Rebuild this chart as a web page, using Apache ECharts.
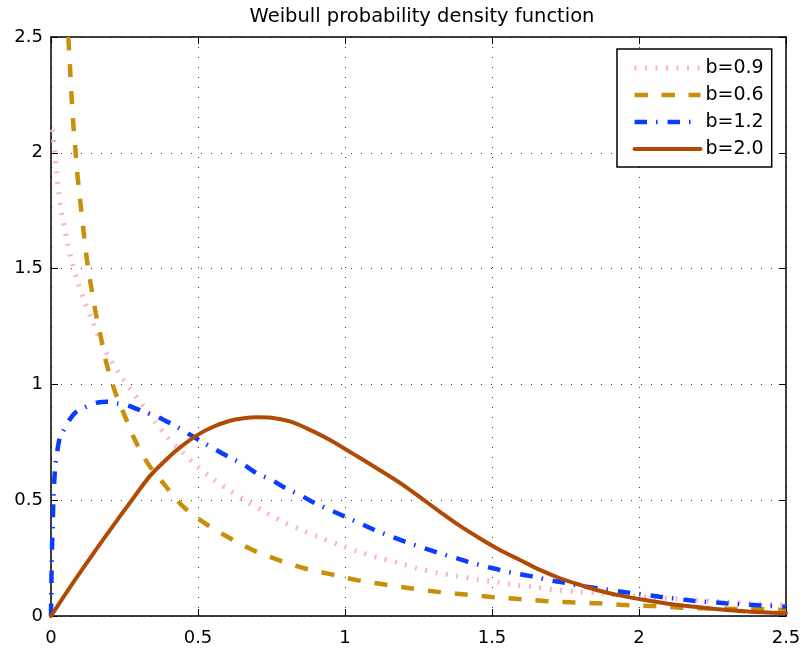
<!DOCTYPE html>
<html>
<head>
<meta charset="utf-8">
<script src="https://cdn.jsdelivr.net/npm/echarts@6/dist/echarts.min.js"></script>
<style>
  html, body { margin: 0; padding: 0; background: #fff; }
  #chart { width: 804px; height: 650px; }
</style>
</head>
<body>
<div id="chart"></div>
<script>
// Axis ticks
const xTicks = [0, 0.5, 1, 1.5, 2, 2.5];
const yTicks = [0, 0.5, 1, 1.5, 2, 2.5];

// Curve names (legend order)
const curveNames = ['b=0.9', 'b=0.6', 'b=1.2', 'b=2.0'];

// b = 0.9
const xB09 = [0.005, 0.011, 0.019, 0.025, 0.034, 0.042, 0.055, 0.07, 0.089, 0.113, 0.138, 0.164, 0.195, 0.231, 0.272, 0.314, 0.354, 0.399, 0.445, 0.496, 0.552, 0.609, 0.666, 0.726, 0.785, 0.847, 0.913, 0.98, 1.045, 1.113, 1.181, 1.244, 1.312, 1.38, 1.448, 1.516, 1.584, 1.652, 1.72, 1.794, 1.862, 1.95, 2.05, 2.15, 2.25, 2.35, 2.5];
const yB09 = [2.1, 2.03, 1.92, 1.84, 1.75, 1.70, 1.616, 1.533, 1.448, 1.363, 1.281, 1.199, 1.123, 1.048, 0.976, 0.907, 0.839, 0.767, 0.709, 0.648, 0.59, 0.541, 0.494, 0.45, 0.41, 0.374, 0.34, 0.308, 0.278, 0.252, 0.23, 0.206, 0.187, 0.173, 0.158, 0.147, 0.134, 0.124, 0.112, 0.105, 0.098, 0.09, 0.08, 0.072, 0.064, 0.057, 0.047];

// b = 0.6
const xB06 = [0.059, 0.065, 0.07, 0.076, 0.084, 0.091, 0.101, 0.111, 0.122, 0.136, 0.152, 0.171, 0.19, 0.218, 0.252, 0.288, 0.333, 0.39, 0.45, 0.524, 0.603, 0.686, 0.773, 0.861, 0.949, 1.04, 1.13, 1.221, 1.312, 1.4, 1.499, 1.59, 1.68, 1.771, 1.86, 1.958, 2.049, 2.14, 2.23, 2.327, 2.417, 2.5];
const yB06 = [2.5, 2.36, 2.24, 2.12, 2.0, 1.89, 1.775, 1.658, 1.541, 1.426, 1.31, 1.195, 1.084, 0.968, 0.861, 0.753, 0.652, 0.561, 0.472, 0.40, 0.34, 0.285, 0.242, 0.206, 0.181, 0.155, 0.137, 0.12, 0.105, 0.094, 0.082, 0.073, 0.065, 0.059, 0.055, 0.047, 0.043, 0.036, 0.033, 0.03, 0.029, 0.026];

// b = 1.2
const xB12 = [0, 0.002, 0.004, 0.006, 0.008, 0.011, 0.014, 0.017, 0.025, 0.031, 0.042, 0.059, 0.08, 0.099, 0.133, 0.16, 0.19, 0.223, 0.257, 0.308, 0.36, 0.41, 0.456, 0.512, 0.552, 0.603, 0.654, 0.7, 0.751, 0.799, 0.847, 0.898, 0.949, 1.0, 1.051, 1.102, 1.153, 1.204, 1.255, 1.312, 1.363, 1.419, 1.471, 1.527, 1.578, 1.641, 1.691, 1.743, 1.8, 1.856, 1.964, 2.071, 2.185, 2.293, 2.406, 2.5];
const yB12 = [0, 0.2, 0.32, 0.4, 0.5, 0.58, 0.638, 0.674, 0.74, 0.774, 0.8, 0.839, 0.875, 0.89, 0.911, 0.922, 0.925, 0.918, 0.911, 0.886, 0.861, 0.829, 0.796, 0.753, 0.724, 0.688, 0.655, 0.616, 0.587, 0.551, 0.522, 0.487, 0.458, 0.429, 0.4, 0.371, 0.345, 0.321, 0.299, 0.275, 0.256, 0.234, 0.216, 0.199, 0.184, 0.17, 0.155, 0.144, 0.13, 0.12, 0.101, 0.083, 0.066, 0.055, 0.046, 0.04];

// b = 2.0
const xB20 = [0, 0.065, 0.133, 0.2, 0.269, 0.337, 0.4, 0.439, 0.496, 0.552, 0.609, 0.65, 0.7, 0.75, 0.813, 0.87, 0.949, 1.028, 1.108, 1.187, 1.255, 1.323, 1.391, 1.459, 1.527, 1.595, 1.663, 1.731, 1.8, 1.862, 1.93, 1.998, 2.105, 2.219, 2.332, 2.423, 2.5];
const yB20 = [0, 0.125, 0.25, 0.37, 0.49, 0.605, 0.685, 0.728, 0.78, 0.817, 0.843, 0.853, 0.858, 0.856, 0.84, 0.81, 0.76, 0.70, 0.638, 0.575, 0.513, 0.45, 0.389, 0.335, 0.285, 0.242, 0.199, 0.163, 0.134, 0.11, 0.09, 0.074, 0.052, 0.036, 0.023, 0.016, 0.012];

const FONT = 'DejaVu Sans';
const pairs = (xs, ys) => xs.map((x, i) => [x, ys[i]]);

const gridDots = { color: '#3a3a3a', width: 1, type: [1, 9] };
const frameLine = { show: true, lineStyle: { color: '#000', width: 1.5 } };
const innerTick = { show: true, inside: true, length: 7, lineStyle: { color: '#000', width: 1 } };

function xAxisDef(pos, labels) {
  return {
    type: 'value', position: pos, min: xTicks[0], max: xTicks[xTicks.length - 1],
    interval: xTicks[1] - xTicks[0],
    axisLine: Object.assign({ onZero: false }, frameLine),
    axisTick: innerTick,
    splitLine: { show: labels, lineStyle: gridDots },
    axisLabel: { show: labels, color: '#000', fontFamily: FONT, fontSize: 18, margin: 13,
                 formatter: v => String(v) }
  };
}
function yAxisDef(pos, labels) {
  return {
    type: 'value', position: pos, min: yTicks[0], max: yTicks[yTicks.length - 1],
    interval: yTicks[1] - yTicks[0],
    axisLine: Object.assign({ onZero: false }, frameLine),
    axisTick: innerTick,
    splitLine: { show: labels, lineStyle: gridDots },
    axisLabel: { show: labels, color: '#000', fontFamily: FONT, fontSize: 18, margin: 8,
                 formatter: v => String(v) }
  };
}

const styles = [
  { color: '#ffb0c6', width: 5, type: [2, 8.5], cap: 'butt' },
  { color: '#c8900a', width: 4.5, type: [13.5, 13.5], cap: 'butt' },
  { color: '#0a3cff', width: 4.5, type: [12.5, 9, 1.5, 10], cap: 'butt' },
  { color: '#b04a05', width: 4, type: 'solid', cap: 'round' }
];
const dataSets = [pairs(xB09, yB09), pairs(xB06, yB06), pairs(xB12, yB12), pairs(xB20, yB20)];

const chart = echarts.init(document.getElementById('chart'), null, { renderer: 'canvas' });
chart.setOption({
  backgroundColor: '#fff',
  animation: false,
  title: {
    text: 'Weibull probability density function',
    left: 417, top: 2, textAlign: 'center',
    textStyle: { fontFamily: FONT, fontSize: 19.5, fontWeight: 'normal', color: '#000' }
  },
  grid: { left: 51, top: 37, right: 18, bottom: 34, containLabel: false },
  xAxis: [xAxisDef('bottom', true), xAxisDef('top', false)],
  yAxis: [yAxisDef('left', true), yAxisDef('right', false)],
  legend: {
    orient: 'vertical', left: 617, top: 49,
    padding: [9, 8, 8, 15],
    backgroundColor: '#fff', borderColor: '#000', borderWidth: 1.5, borderRadius: 0,
    itemWidth: 66, itemHeight: 20, itemGap: 7, itemTextGap: 8,
    itemStyle: { opacity: 0 },
    textStyle: { fontFamily: FONT, fontSize: 19, color: '#000', lineHeight: 20 },
    data: curveNames.map((name, i) => ({
      name,
      lineStyle: { color: styles[i].color, width: styles[i].width, type: styles[i].type, cap: styles[i].cap }
    }))
  },
  series: curveNames.map((name, i) => ({
    name, type: 'line', data: dataSets[i], showSymbol: false, symbol: 'none',
    clip: true, smooth: 0.3,
    lineStyle: styles[i], itemStyle: { color: styles[i].color },
    z: 2 + i
  }))
});
</script>
</body>
</html>
